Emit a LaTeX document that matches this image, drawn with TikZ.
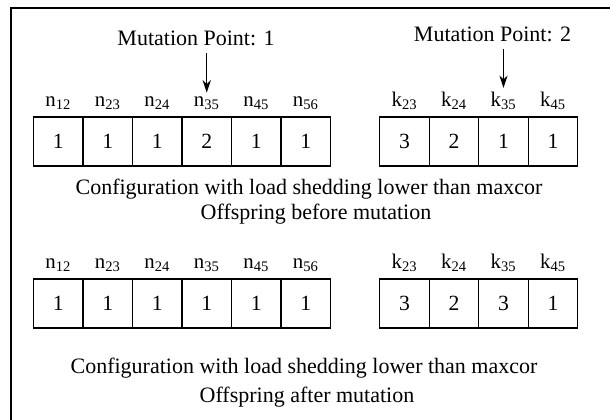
\documentclass[tikz,border=0pt]{standalone}
\usepackage{fontspec}
\setmainfont{Liberation Serif}
\usetikzlibrary{arrows.meta,positioning}

\begin{document}
\begin{tikzpicture}[x=0.6pt,y=-0.6pt,>={Stealth[length=7.5pt,width=5pt]},
    cell/.style={draw,line width=0.8pt,minimum width=29.7pt,minimum height=29.4pt,
                 inner sep=0pt,outer sep=0pt,font=\fontsize{13}{15}\selectfont},
    gene/.style={inner sep=1pt,font=\fontsize{12.5}{14}\selectfont},
    caption/.style={anchor=base,inner sep=0pt,font=\fontsize{13.2}{15}\selectfont}]

            \useasboundingbox (0,0) rectangle (610,420);
            \draw[line width=1.6pt] (11,420) -- (11,8) -- (610,8);

            % offspring before mutation
            \foreach \v [count=\i] in {1,1,1,2,1,1}
                \node[cell] (a\i) at ({58.25+49.5*(\i-1)},141.5) {\v};
            \foreach \v [count=\i] in {3,2,1,1}
                \node[cell] (b\i) at ({404.5+49.5*(\i-1)},141.5) {\v};
            \foreach \g [count=\i] in {12,23,24,35,45,56}
                \node[gene,above=3.5pt of a\i] (na\i) {n\textsubscript{\g}};
            \foreach \g [count=\i] in {23,24,35,45}
                \node[gene,above=3.5pt of b\i] (kb\i) {k\textsubscript{\g}};

            \node[caption] (mp1) at (196,46) {Mutation Point: 1};
            \node[caption] (mp2) at (492.5,42) {Mutation Point: 2};

            \draw[->,line width=0.8pt,shorten <=4pt,shorten >=1pt] (mp1.south -| na4.north) -- (na4.north);
            \draw[->,line width=0.8pt,shorten <=4pt,shorten >=1pt] (mp2.south -| kb3.north) -- (kb3.north);

            \node[caption] (c1) at (309,195) {Configuration with load shedding lower than maxcor};
            \node[caption] (o1) at (316,220) {Offspring before mutation};

            % offspring after mutation
            \foreach \v [count=\i] in {1,1,1,1,1,1}
                \node[cell] (c\i) at ({58.25+49.5*(\i-1)},303.5) {\v};
            \foreach \v [count=\i] in {3,2,3,1}
                \node[cell] (d\i) at ({404.5+49.5*(\i-1)},303.5) {\v};
            \foreach \g [count=\i] in {12,23,24,35,45,56}
                \node[gene,above=3.5pt of c\i] (nc\i) {n\textsubscript{\g}};
            \foreach \g [count=\i] in {23,24,35,45}
                \node[gene,above=3.5pt of d\i] (kd\i) {k\textsubscript{\g}};

            \node[caption] (c2) at (304,374) {Configuration with load shedding lower than maxcor};
            \node[caption] (o2) at (307,403) {Offspring after mutation};

\end{tikzpicture}
\end{document}
